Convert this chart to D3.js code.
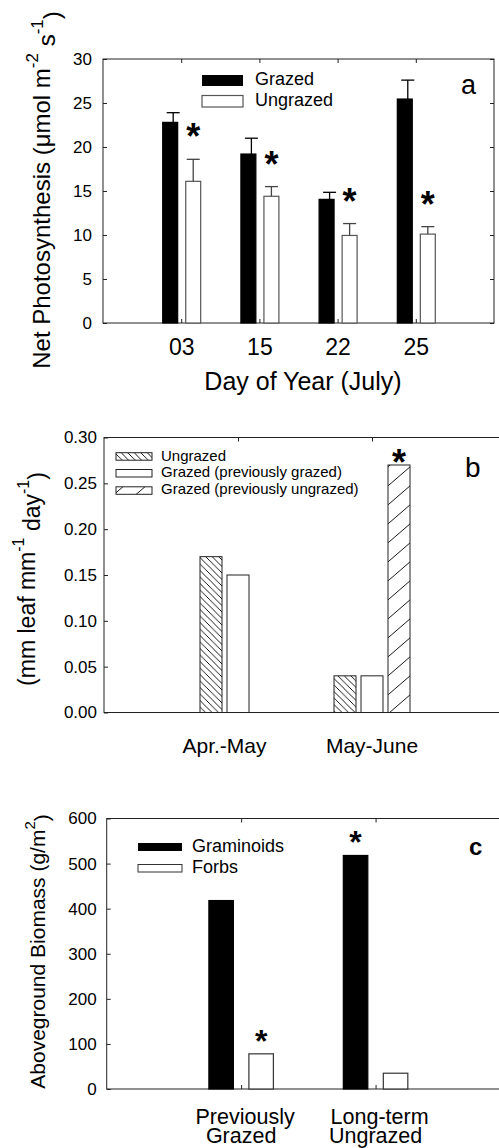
<!DOCTYPE html>
<html>
<head>
<meta charset="utf-8">
<script src="https://cdn.jsdelivr.net/npm/d3@7"></script>
<style>
  html, body { margin: 0; padding: 0; background: #fff; }
  svg { display: block; }
  text { font-family: 'Liberation Sans', Arial, Helvetica, sans-serif; fill: #000; }
</style>
</head>
<body>
<svg id="chart" width="499" height="1148"></svg>
<script>
// ---------- Panel a data ----------
const daysA = ["03", "15", "22", "25"];
const seriesA = ["Grazed", "Ungrazed"];
const grazedA = [22.8, 19.2, 14.05, 25.45];
const grazedErrA = [1.1, 1.8, 0.8, 2.15];
const ungrazedA = [16.1, 14.4, 9.95, 10.1];
const ungrazedErrA = [2.5, 1.1, 1.35, 0.85];
const sigA = [true, true, true, true];
const ticksA = [0, 5, 10, 15, 20, 25, 30];

// ---------- Panel b data ----------
const periodsB = ["Apr.-May", "May-June"];
const seriesB = ["Ungrazed", "Grazed (previously grazed)", "Grazed (previously ungrazed)"];
const ungrazedB = [0.17, 0.04];
const prevGrazedB = [0.15, 0.04];
const prevUngrazedB = [null, 0.27];
const sigB = [[false, false, false], [false, false, true]];
const ticksB = [0, 0.05, 0.10, 0.15, 0.20, 0.25, 0.30];

// ---------- Panel c data ----------
const sitesC = [["Previously", "Grazed"], ["Long-term", "Ungrazed"]];
const seriesC = ["Graminoids", "Forbs"];
const graminoidsC = [418, 518];
const forbsC = [78, 35];
const sigC = [[false, true], [true, false]];
const ticksC = [0, 100, 200, 300, 400, 500, 600];

const svg = d3.select("#chart");
svg.append("rect").attr("width", 499).attr("height", 1148).attr("fill", "#fff");

const defs = svg.append("defs");
// dense back-diagonal hatch
const p1 = defs.append("pattern").attr("id", "hatchBack")
  .attr("patternUnits", "userSpaceOnUse").attr("width", 6.5).attr("height", 6.5);
p1.append("rect").attr("width", 6.5).attr("height", 6.5).attr("fill", "#fff");
p1.append("path").attr("d", "M0,0L6.5,6.5M-1,5.5L1,7.5M5.5,-1L7.5,1")
  .attr("stroke", "#000").attr("stroke-width", 0.9);
// sparse forward-diagonal hatch
const p2 = defs.append("pattern").attr("id", "hatchFwd")
  .attr("patternUnits", "userSpaceOnUse").attr("width", 22).attr("height", 19)
  .attr("x", 389).attr("y", 466);
p2.append("rect").attr("width", 22).attr("height", 19).attr("fill", "#fff");
p2.append("path").attr("d", "M0,19L22,0M-22,19L0,0M22,19L44,0")
  .attr("stroke", "#000").attr("stroke-width", 0.9);

function star(g, cx, cy, size) {
  g.append("text").attr("x", cx).attr("y", cy + size * 0.56)
    .attr("text-anchor", "middle").attr("font-size", size).attr("font-weight", "bold")
    .text("*");
}

function frameAndAxes(g, x, y, yTicks, yFmt, catTicks, pad, left, right, top, bottom) {
  g.append("rect").attr("x", left).attr("y", top)
    .attr("width", right - left).attr("height", bottom - top)
    .attr("fill", "none").attr("stroke", "#222").attr("stroke-width", 1);
  const ay = g.append("g").attr("transform", `translate(${left},0)`)
    .call(d3.axisLeft(y).tickValues(yTicks).tickSize(-4).tickPadding(pad).tickFormat(yFmt));
  ay.select(".domain").remove();
  ay.selectAll("text").attr("font-size", 17).attr("font-family", null);
  ay.selectAll("line").attr("stroke", "#222");
  const ar = g.append("g").attr("transform", `translate(${right},0)`)
    .call(d3.axisRight(y).tickValues(yTicks).tickSize(-4).tickFormat(""));
  ar.select(".domain").remove();
  ar.selectAll("line").attr("stroke", "#222");
  const at = g.append("g").attr("transform", `translate(0,${top})`)
    .call(d3.axisTop(x).tickValues(catTicks).tickSize(-4).tickFormat(""));
  at.select(".domain").remove();
  at.selectAll("line").attr("stroke", "#222");
}

// ================= Panel a =================
{
  const g = svg.append("g");
  const L = 103, R = 494, T = 59, B = 323;
  const x = d3.scaleLinear().domain([0, 5]).range([L, R]);
  const y = d3.scaleLinear().domain([0, 30]).range([B, T]);
  const x1 = d3.scaleBand().domain(seriesA).range([-18.5, 19.5]).paddingInner(0.35);
  const cats = daysA.map((d, i) => i + 1);
  frameAndAxes(g, x, y, ticksA, d3.format("d"), cats, 11, L, R, T, B);

  const ab = g.append("g").attr("transform", `translate(0,${B})`)
    .call(d3.axisBottom(x).tickValues(cats).tickSize(-4).tickPadding(16)
      .tickFormat((d, i) => daysA[i]));
  ab.select(".domain").remove();
  ab.selectAll("line").attr("stroke", "#222");
  ab.selectAll("text").attr("font-size", 23).attr("font-family", null);

  const rows = daysA.map((d, i) => ({
    i, vals: [
      { s: "Grazed", v: grazedA[i], e: grazedErrA[i], eo: 3 },
      { s: "Ungrazed", v: ungrazedA[i], e: ungrazedErrA[i], eo: 0 }
    ]
  }));
  rows.forEach(r => {
    r.vals.forEach(o => {
      const bx = x(r.i + 1) + x1(o.s);
      const bw = x1.bandwidth();
      g.append("rect").attr("x", bx).attr("y", y(o.v))
        .attr("width", bw).attr("height", y(0) - y(o.v))
        .attr("fill", o.s === "Grazed" ? "#000" : "#fff")
        .attr("stroke", o.s === "Grazed" ? "#000" : "#555").attr("stroke-width", 1.2);
      const cx = bx + bw / 2 + o.eo;
      g.append("line").attr("x1", cx).attr("x2", cx)
        .attr("y1", y(o.v)).attr("y2", y(o.v + o.e))
        .attr("stroke", o.s === "Grazed" ? "#000" : "#444").attr("stroke-width", 1.3);
      g.append("line").attr("x1", cx - 6.5).attr("x2", cx + 6.5)
        .attr("y1", y(o.v + o.e)).attr("y2", y(o.v + o.e))
        .attr("stroke", o.s === "Grazed" ? "#000" : "#444").attr("stroke-width", 1.3);
    });
    if (sigA[r.i]) {
      const bx = x(r.i + 1) + x1("Ungrazed") + x1.bandwidth() / 2;
      star(g, bx, y(ungrazedA[r.i] + ungrazedErrA[r.i]) - 30, 36);
    }
  });

  // legend
  g.append("rect").attr("x", 202).attr("y", 75).attr("width", 41).attr("height", 11).attr("fill", "#000");
  g.append("rect").attr("x", 202).attr("y", 95.5).attr("width", 41).attr("height", 11.5)
    .attr("fill", "#fff").attr("stroke", "#555").attr("stroke-width", 1.2);
  g.append("text").attr("x", 255).attr("y", 85).attr("font-size", 18).text(seriesA[0]);
  g.append("text").attr("x", 255).attr("y", 105.5).attr("font-size", 18).text(seriesA[1]);
  g.append("text").attr("x", 461).attr("y", 94).attr("font-size", 27).text("a");

  g.append("text").attr("x", 303).attr("y", 390).attr("text-anchor", "middle")
    .attr("font-size", 25).text("Day of Year (July)");

  const yt = g.append("text").attr("transform", "translate(50,190) rotate(-90)")
    .attr("text-anchor", "middle").attr("font-size", 24);
  yt.append("tspan").text("Net Photosynthesis (\u03bcmol m");
  yt.append("tspan").attr("dy", "-0.7em").attr("font-size", 17).text("-2");
  yt.append("tspan").attr("dy", "0.7em").text(" s");
  yt.append("tspan").attr("dy", "-0.7em").attr("font-size", 17).text("-1");
  yt.append("tspan").attr("dy", "0.7em").text(")");
}

// ================= Panel b =================
{
  const g = svg.append("g");
  const L = 104, R = 506, T = 437.5, B = 712.5;
  const x = d3.scaleLinear().domain([0, 3]).range([L, R]);
  const y = d3.scaleLinear().domain([0, 0.30]).range([B, T]);
  const x1 = d3.scaleBand().domain(seriesB).range([-38, 38]).paddingInner(5 / 27);
  frameAndAxes(g, x, y, ticksB, d3.format(".2f"), [1, 2], 7, L, R, T, B);
  const ab = g.append("g").attr("transform", `translate(0,${B})`)
    .call(d3.axisBottom(x).tickValues([1, 2]).tickSize(-4).tickFormat(""));
  ab.select(".domain").remove();
  ab.selectAll("line").attr("stroke", "#222");

  const fills = ["url(#hatchBack)", "#fff", "url(#hatchFwd)"];
  const vals = [ungrazedB, prevGrazedB, prevUngrazedB];
  periodsB.forEach((p, i) => {
    const present = [];
    seriesB.forEach((s, k) => {
      const v = vals[k][i];
      if (v == null) return;
      const bx = x(i + 1) + x1(s);
      present.push(bx, bx + x1.bandwidth());
      g.append("rect").attr("x", bx).attr("y", y(v))
        .attr("width", x1.bandwidth()).attr("height", y(0) - y(v))
        .attr("fill", fills[k]).attr("stroke", "#222").attr("stroke-width", 1);
      if (sigB[i][k]) star(g, bx + x1.bandwidth() / 2, y(v) - 10, 36);
    });
    const cx = (d3.min(present) + d3.max(present)) / 2;
    g.append("text").attr("x", cx).attr("y", 753).attr("text-anchor", "middle")
      .attr("font-size", 21).text(p);
  });

  const ly = [452.7, 469.5, 486.8];
  const lt = [460.5, 477.3, 494];
  seriesB.forEach((s, k) => {
    g.append("rect").attr("x", 116).attr("y", ly[k]).attr("width", 36).attr("height", 7.5)
      .attr("fill", fills[k]).attr("stroke", "#222").attr("stroke-width", 1);
    g.append("text").attr("x", 161).attr("y", lt[k]).attr("font-size", 15).text(s);
  });
  g.append("text").attr("x", 465).attr("y", 477).attr("font-size", 28).text("b");

  const yt = g.append("text").attr("transform", "translate(35,579) rotate(-90)")
    .attr("text-anchor", "middle").attr("font-size", 23);
  yt.append("tspan").text("(mm leaf mm");
  yt.append("tspan").attr("dy", "-0.7em").attr("font-size", 16).text("-1");
  yt.append("tspan").attr("dy", "0.7em").text(" day");
  yt.append("tspan").attr("dy", "-0.7em").attr("font-size", 16).text("-1");
  yt.append("tspan").attr("dy", "0.7em").text(")");
}

// ================= Panel c =================
{
  const g = svg.append("g");
  const L = 106.7, R = 510, T = 818.5, B = 1089;
  const x = d3.scaleLinear().domain([0, 3]).range([L, R]);
  const y = d3.scaleLinear().domain([0, 600]).range([B, T]);
  const x1 = d3.scaleBand().domain(seriesC).range([-32.25, 32.25]).paddingInner(0.3875);
  frameAndAxes(g, x, y, ticksC, d3.format("d"), [1, 2], 10, L, R, T, B);
  const ab = g.append("g").attr("transform", `translate(0,${B})`)
    .call(d3.axisBottom(x).tickValues([1, 2]).tickSize(-4).tickFormat(""));
  ab.select(".domain").remove();
  ab.selectAll("line").attr("stroke", "#222");

  const vals = [graminoidsC, forbsC];
  sitesC.forEach((site, i) => {
    seriesC.forEach((s, k) => {
      const v = vals[k][i];
      const bx = x(i + 1) + x1(s);
      g.append("rect").attr("x", bx).attr("y", y(v))
        .attr("width", x1.bandwidth()).attr("height", y(0) - y(v))
        .attr("fill", k === 0 ? "#000" : "#fff")
        .attr("stroke", k === 0 ? "#000" : "#333").attr("stroke-width", 1.2);
      if (sigC[i][k]) star(g, bx + x1.bandwidth() / 2, y(v) - 20, 32);
    });
    g.append("text").attr("x", x(i + 1) + 4).attr("y", 1123.5).attr("text-anchor", "middle")
      .attr("font-size", 21.5).text(site[0]);
    g.append("text").attr("x", x(i + 1)).attr("y", 1143).attr("text-anchor", "middle")
      .attr("font-size", 21.5).text(site[1]);
  });

  g.append("rect").attr("x", 138).attr("y", 843).attr("width", 44).attr("height", 8).attr("fill", "#000");
  g.append("rect").attr("x", 138).attr("y", 864.5).attr("width", 44).attr("height", 7.5)
    .attr("fill", "#fff").attr("stroke", "#333").attr("stroke-width", 1);
  g.append("text").attr("x", 192).attr("y", 851.7).attr("font-size", 18).text(seriesC[0]);
  g.append("text").attr("x", 192).attr("y", 872.7).attr("font-size", 18).text(seriesC[1]);
  g.append("text").attr("x", 469).attr("y", 855).attr("font-size", 24).attr("font-weight", "bold").text("c");

  const yt = g.append("text").attr("transform", "translate(45,951.5) rotate(-90)")
    .attr("text-anchor", "middle").attr("font-size", 21);
  yt.append("tspan").text("Aboveground Biomass (g/m");
  yt.append("tspan").attr("dy", "-0.7em").attr("font-size", 15).text("2");
  yt.append("tspan").attr("dy", "0.7em").text(")");
}
</script>
</body>
</html>
